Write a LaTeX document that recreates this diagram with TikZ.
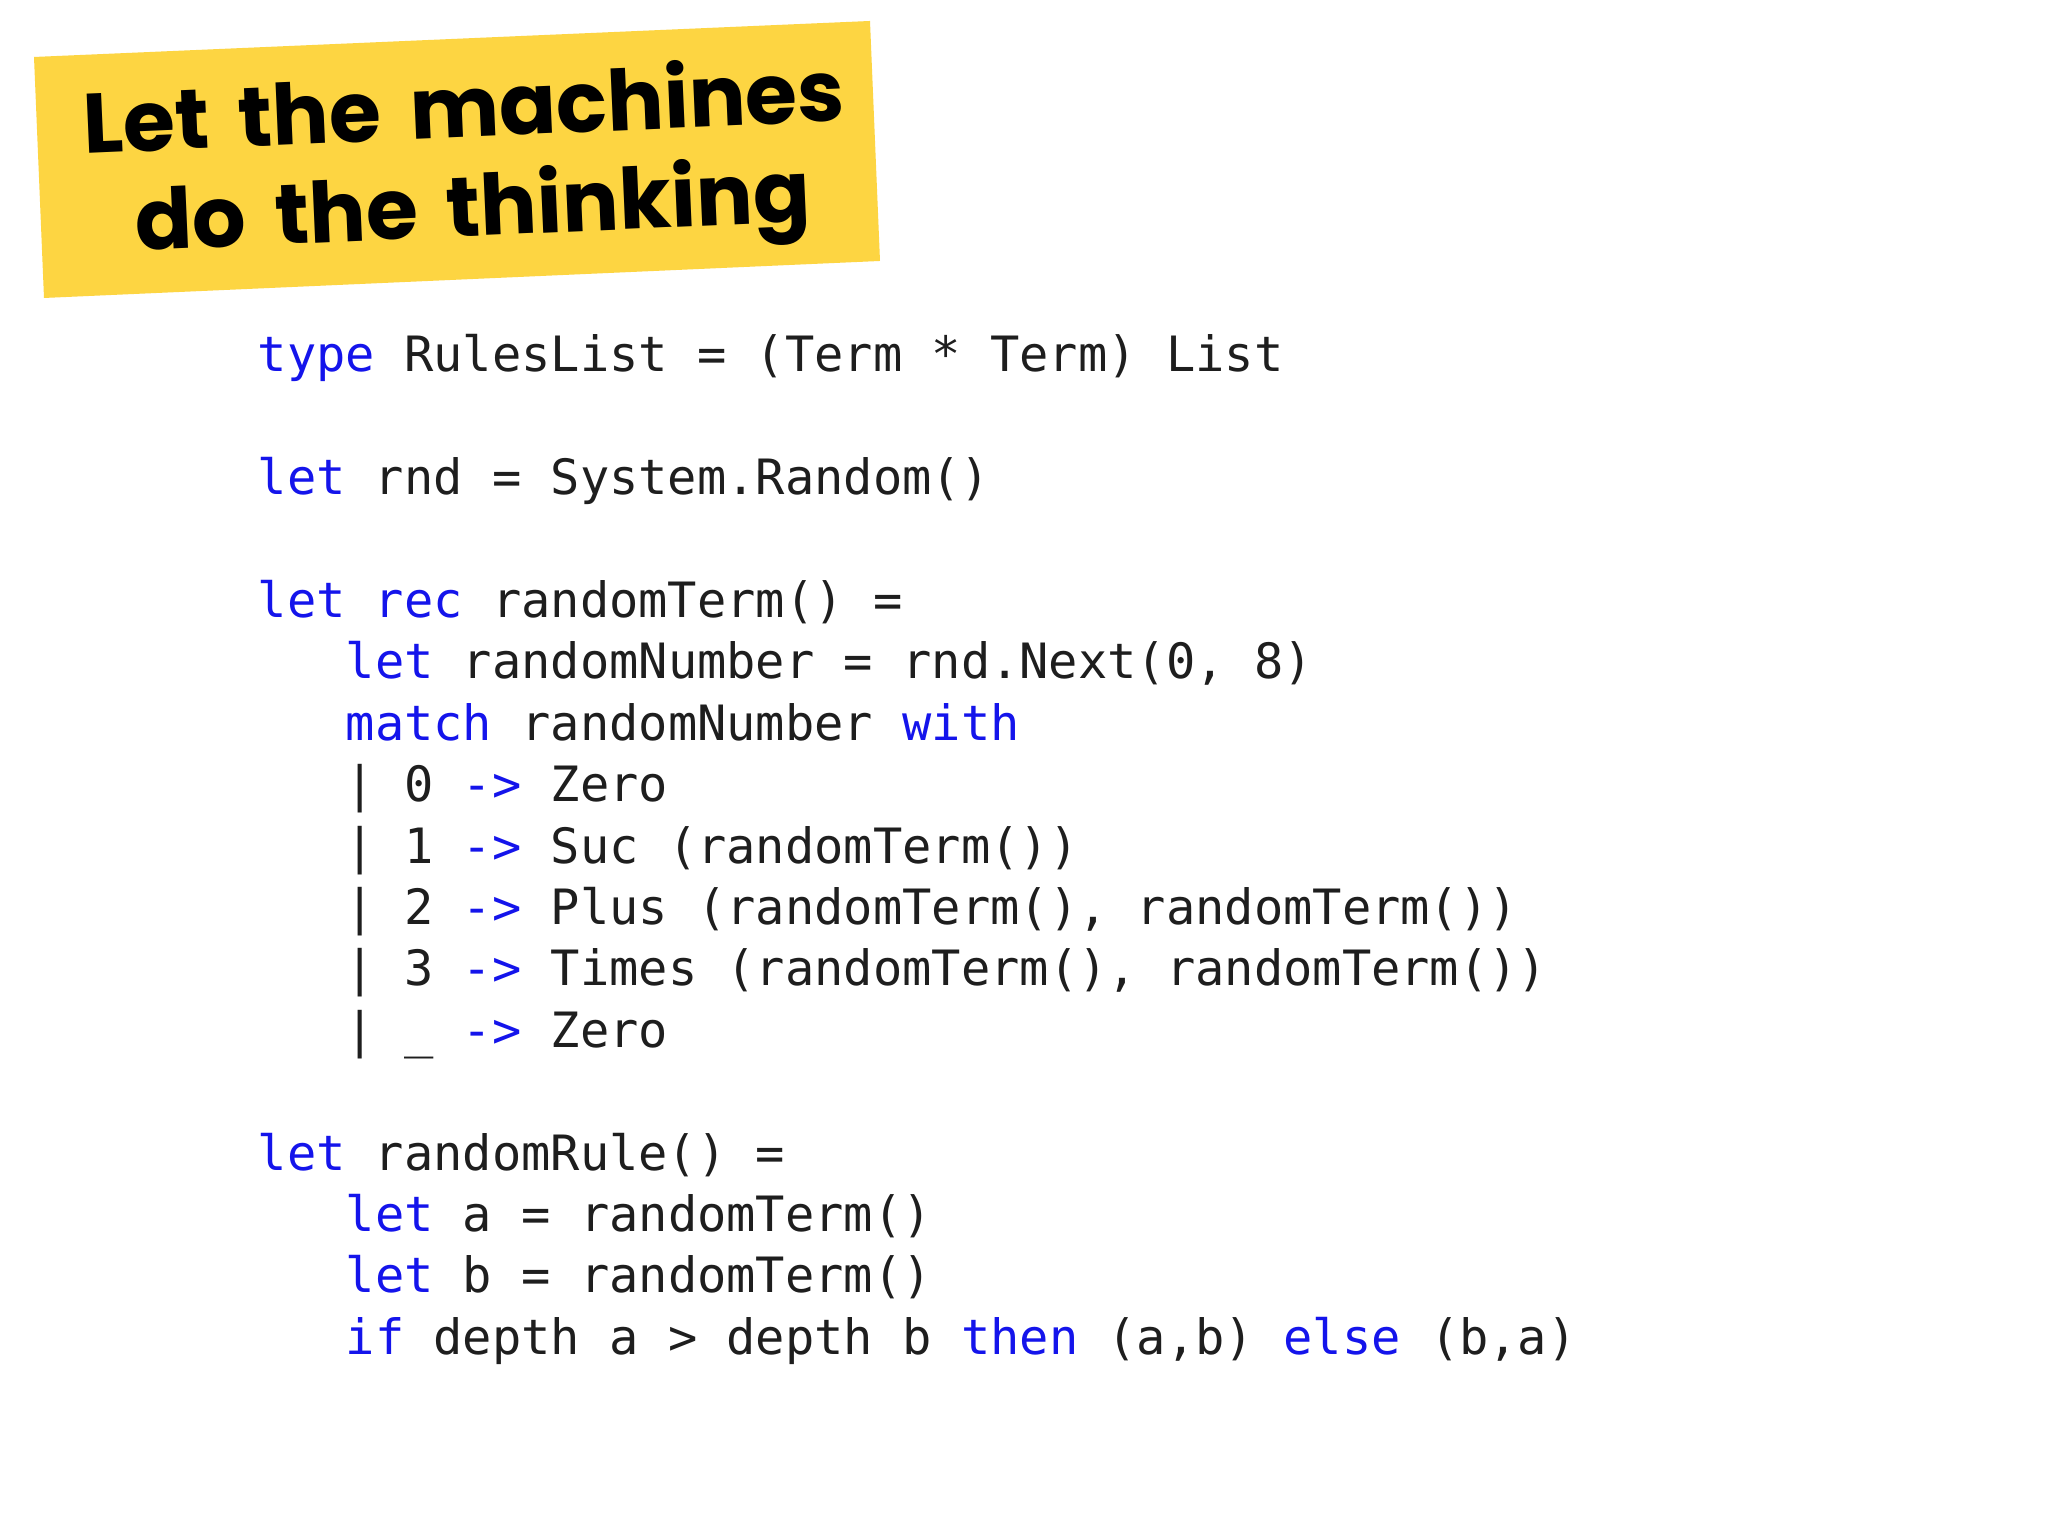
\documentclass[tikz,border=0pt]{standalone}
\usepackage{fontspec}
\setmonofont{DejaVu Sans Mono}
\newfontfamily\titlefont{Poppins}[WordSpace=1.6]
\definecolor{kw}{RGB}{20,20,235}
\definecolor{txt}{RGB}{30,30,30}
\definecolor{banner}{RGB}{253,213,66}
\newcommand{\kw}[1]{\textcolor{kw}{#1}}
\begin{document}
\begin{tikzpicture}[x=1cm,y=1cm,
  code/.style={anchor=base west,inner sep=0pt,font=\ttfamily\fontsize{13.85}{16}\selectfont,text=txt},
  ttl/.style={anchor=base west,inner sep=0pt,rotate=2.5,font=\titlefont\bfseries\fontsize{24}{28}\selectfont,text=black}]
\useasboundingbox (0,0) rectangle (20.48,15.36);
\fill[white] (0,0) rectangle (20.48,15.36);
\fill[banner] (0.34,14.79) -- (8.70,15.15) -- (8.80,12.75) -- (0.44,12.38) -- cycle;
\node[ttl] (t1) at (0.84,13.82) {Let the machines};
\node[ttl] (t2) at (1.36,12.85) {do the thinking};
\def\xa{2.57}
\def\xb{3.45}
\node[code] (l1) at (\xa,11.64) {\kw{type} RulesList = (Term * Term) List};
\node[code] (l2) at (\xa,{11.64-0.614*2}) {\kw{let} rnd = System.Random()};
\node[code] (l3) at (\xa,{11.64-0.614*4}) {\kw{let} \kw{rec} randomTerm() =};
\node[code] (l4) at (\xb,{11.64-0.614*5}) {\kw{let} randomNumber = rnd.Next(0, 8)};
\node[code] (l5) at (\xb,{11.64-0.614*6}) {\kw{match} randomNumber \kw{with}};
\node[code] (l6) at (\xb,{11.64-0.614*7}) {| 0 \kw{->} Zero};
\node[code] (l7) at (\xb,{11.64-0.614*8}) {| 1 \kw{->} Suc (randomTerm())};
\node[code] (l8) at (\xb,{11.64-0.614*9}) {| 2 \kw{->} Plus (randomTerm(), randomTerm())};
\node[code] (l9) at (\xb,{11.64-0.614*10}) {| 3 \kw{->} Times (randomTerm(), randomTerm())};
\node[code] (l10) at (\xb,{11.64-0.614*11}) {| \_ \kw{->} Zero};
\node[code] (l11) at (\xa,{11.64-0.614*13}) {\kw{let} randomRule() =};
\node[code] (l12) at (\xb,{11.64-0.614*14}) {\kw{let} a = randomTerm()};
\node[code] (l13) at (\xb,{11.64-0.614*15}) {\kw{let} b = randomTerm()};
\node[code] (l14) at (\xb,{11.64-0.614*16}) {\kw{if} depth a > depth b \kw{then} (a,b) \kw{else} (b,a)};
\end{tikzpicture}
\end{document}
